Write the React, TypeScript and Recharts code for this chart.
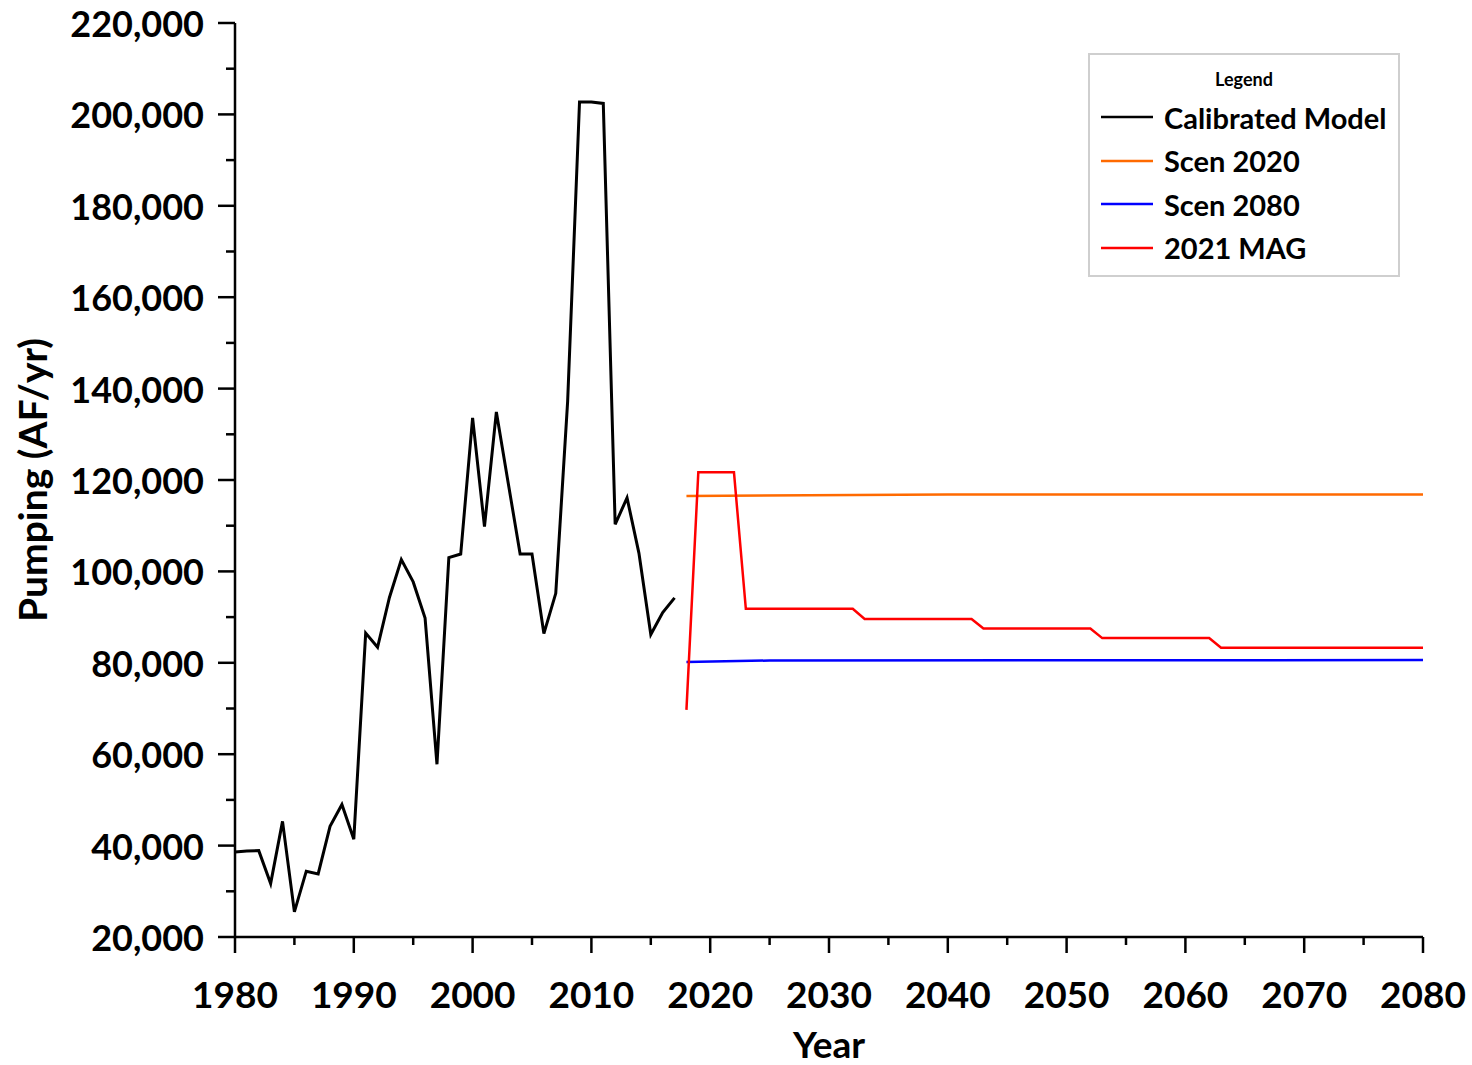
import { Legend, Line, LineChart, XAxis, YAxis } from 'recharts';

const FONT = 'Lato, "Open Sans", sans-serif';

// Calibrated model pumping, 1980-2017 (AF/yr)
const calibratedYears = [
  1980, 1981, 1982, 1983, 1984, 1985, 1986, 1987, 1988, 1989, 1990, 1991, 1992,
  1993, 1994, 1995, 1996, 1997, 1998, 1999, 2000, 2001, 2002, 2003, 2004, 2005,
  2006, 2007, 2008, 2009, 2010, 2011, 2012, 2013, 2014, 2015, 2016, 2017,
];
const calibratedPumping = [
  38600, 38800, 38900, 31700, 45300, 25500, 34400, 33800, 44200, 49000, 41400,
  86500, 83400, 94300, 102600, 97700, 89800, 57800, 103000, 103800, 133600,
  109800, 134900, 119300, 103800, 103800, 86400, 95200, 137200, 202700, 202700,
  202400, 110300, 116100, 104000, 86200, 91000, 94200,
];

// Scenario runs, 2018-2080
const scen2020Years = [2018, 2040, 2080];
const scen2020Pumping = [116500, 116800, 116800];

const scen2080Years = [2018, 2025, 2080];
const scen2080Pumping = [80200, 80500, 80600];

const magYears = [2018, 2019, 2022, 2023, 2032, 2033, 2042, 2043, 2052, 2053, 2062, 2063, 2080];
const magPumping = [69700, 121700, 121700, 91800, 91800, 89600, 89600, 87500, 87500, 85400, 85400, 83300, 83300];

const seriesNames = ['Calibrated Model', 'Scen 2020', 'Scen 2080', '2021 MAG'];

const yTicks = [
  20000, 30000, 40000, 50000, 60000, 70000, 80000, 90000, 100000, 110000, 120000,
  130000, 140000, 150000, 160000, 170000, 180000, 190000, 200000, 210000, 220000,
];
const xTicks = [
  1980, 1985, 1990, 1995, 2000, 2005, 2010, 2015, 2020, 2025, 2030, 2035, 2040,
  2045, 2050, 2055, 2060, 2065, 2070, 2075, 2080,
];

const toPoints = (years: number[], values: number[]) =>
  years.map((year, i) => ({ year, pumping: values[i] }));

const calibrated = toPoints(calibratedYears, calibratedPumping);
const scen2020 = toPoints(scen2020Years, scen2020Pumping);
const scen2080 = toPoints(scen2080Years, scen2080Pumping);
const mag2021 = toPoints(magYears, magPumping);

// labelled tick every 20,000, short unlabelled tick in between
function YTick({ x, y, payload }: any) {
  const major = payload.value % 20000 === 0;
  return (
    <g>
      <line x1={x} x2={x - (major ? 17 : 9)} y1={y} y2={y} stroke="#000" strokeWidth={2.5} />
      {major && (
        <text
          x={x - 31}
          y={y + 14}
          textAnchor="end"
          fontFamily={FONT}
          fontWeight={700}
          fontSize={36}
          fill="#000"
        >
          {payload.value.toLocaleString('en-US')}
        </text>
      )}
    </g>
  );
}

// labelled tick every decade, short tick at the half-decade
function XTick({ x, y, payload }: any) {
  const major = payload.value % 10 === 0;
  return (
    <g>
      <line x1={x} x2={x} y1={y} y2={y + (major ? 16 : 8)} stroke="#000" strokeWidth={2.5} />
      {major && (
        <text
          x={x}
          y={y + 71}
          textAnchor="middle"
          fontFamily={FONT}
          fontWeight={700}
          fontSize={37}
          fill="#000"
        >
          {payload.value}
        </text>
      )}
    </g>
  );
}

function LegendBox({ payload }: any) {
  const items = [...(payload || [])].sort(
    (a: any, b: any) => seriesNames.indexOf(a.value) - seriesNames.indexOf(b.value),
  );
  return (
    <div
      style={{
        position: 'relative',
        width: 312,
        height: 224,
        boxSizing: 'border-box',
        border: '2px solid #cfcfcf',
        background: '#fff',
        fontFamily: FONT,
        color: '#000',
      }}
    >
      <div
        style={{
          position: 'absolute',
          top: 13,
          left: 0,
          right: 0,
          textAlign: 'center',
          fontSize: 18,
          fontWeight: 700,
          lineHeight: '22px',
        }}
      >
        Legend
      </div>
      {items.map((entry: any, i: number) => (
        <div
          key={entry.value}
          style={{
            position: 'absolute',
            left: 0,
            top: 40 + i * 43.5,
            height: 44,
            display: 'flex',
            alignItems: 'center',
          }}
        >
          <svg width={52} height={6} style={{ marginLeft: 11, marginRight: 11 }}>
            <line x1={0} x2={52} y1={3} y2={3} stroke={entry.color} strokeWidth={2.5} />
          </svg>
          <span style={{ fontSize: 29, fontWeight: 700, whiteSpace: 'nowrap' }}>{entry.value}</span>
        </div>
      ))}
    </div>
  );
}

export default function App() {
  return (
    <div style={{ position: 'absolute', left: 0, top: 0, background: '#fff' }}>
      <LineChart width={1472} height={1065} margin={{ top: 23, right: 49, bottom: 0, left: 0 }}>
        <XAxis
          dataKey="year"
          type="number"
          domain={[1980, 2080]}
          ticks={xTicks}
          interval={0}
          height={128}
          tickSize={0}
          tickMargin={0}
          tickLine={false}
          axisLine={{ stroke: '#000', strokeWidth: 2.5 }}
          tick={<XTick />}
          allowDuplicatedCategory={false}
          label={({ viewBox }: any) => (
            <text
              x={viewBox.x + viewBox.width / 2}
              y={viewBox.y + 121}
              textAnchor="middle"
              fontFamily={FONT}
              fontWeight={700}
              fontSize={37}
              fill="#000"
            >
              Year
            </text>
          )}
        />
        <YAxis
          type="number"
          domain={[20000, 220000]}
          ticks={yTicks}
          interval={0}
          width={235}
          tickSize={0}
          tickMargin={0}
          tickLine={false}
          axisLine={{ stroke: '#000', strokeWidth: 2.5 }}
          tick={<YTick />}
          label={({ viewBox }: any) => {
            const cx = viewBox.x + 32;
            const cy = viewBox.y + viewBox.height / 2;
            return (
              <text
                x={cx}
                y={cy}
                transform={`rotate(-90 ${cx} ${cy})`}
                textAnchor="middle"
                dominantBaseline="central"
                fontFamily={FONT}
                fontWeight={700}
                fontSize={39}
                fill="#000"
              >
                Pumping (AF/yr)
              </text>
            );
          }}
        />
        <Legend
          layout="horizontal"
          verticalAlign="middle"
          align="center"
          wrapperStyle={{ left: 1088, top: 53, width: 312, height: 224 }}
          content={<LegendBox />}
        />
        <Line
          data={calibrated}
          dataKey="pumping"
          name={seriesNames[0]}
          stroke="#000000"
          strokeWidth={3}
          dot={false}
          isAnimationActive={false}
        />
        <Line
          data={scen2020}
          dataKey="pumping"
          name={seriesNames[1]}
          stroke="#ff6a00"
          strokeWidth={2.5}
          dot={false}
          isAnimationActive={false}
        />
        <Line
          data={scen2080}
          dataKey="pumping"
          name={seriesNames[2]}
          stroke="#0000ff"
          strokeWidth={2.5}
          dot={false}
          isAnimationActive={false}
        />
        <Line
          data={mag2021}
          dataKey="pumping"
          name={seriesNames[3]}
          stroke="#ff0000"
          strokeWidth={2.5}
          dot={false}
          isAnimationActive={false}
        />
      </LineChart>
    </div>
  );
}
